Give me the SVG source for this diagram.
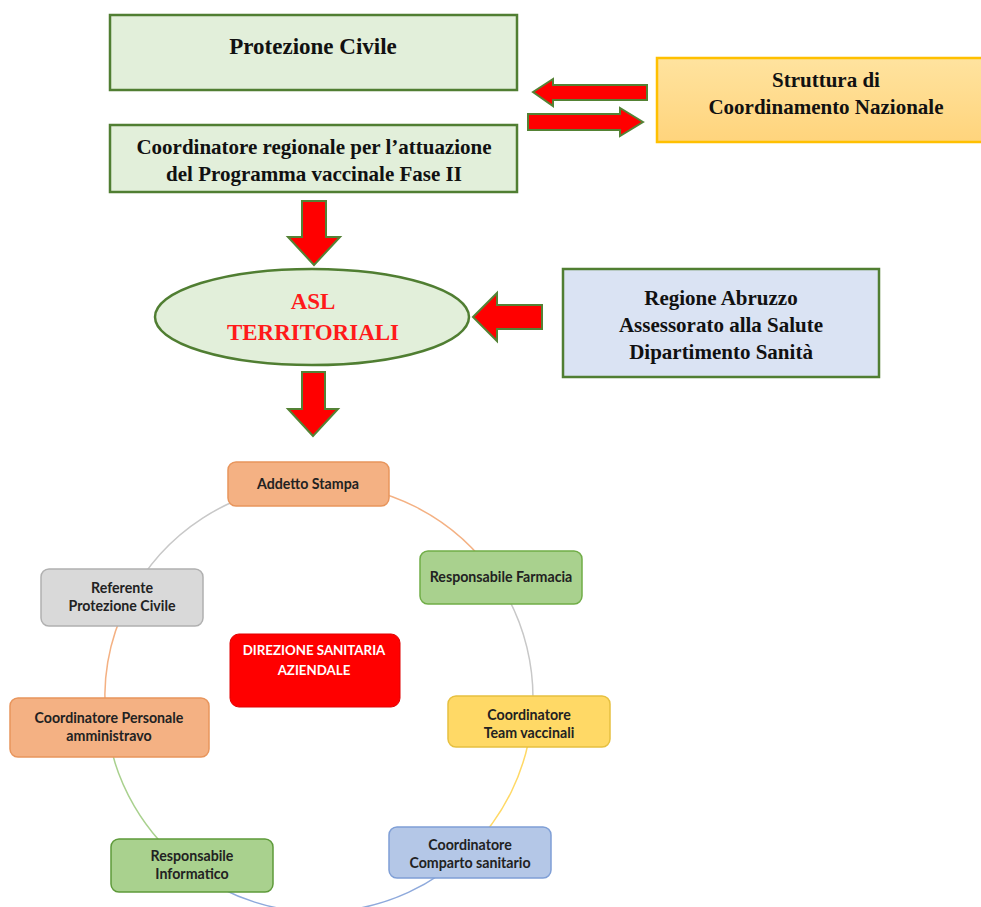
<svg xmlns="http://www.w3.org/2000/svg" width="981" height="907" viewBox="0 0 981 907">
<style>
.gbox{fill:#e2efda;stroke:#507e32;stroke-width:2.5}
.ser{font-family:"Liberation Serif","Times New Roman",serif;font-weight:bold;font-size:21px;fill:#111;text-anchor:middle}
.arr{fill:#ff0000;stroke:#548235;stroke-width:2;stroke-linejoin:miter}
.cn{stroke-width:1.5;rx:8}
.cl{font-family:Lato,"Open Sans",sans-serif;font-weight:bold;font-size:14.2px;fill:#222;text-anchor:middle}
.arc{fill:none;stroke-width:1.5}
</style>
<defs>
<linearGradient id="yel" x1="0" y1="0" x2="0" y2="1">
<stop offset="0" stop-color="#ffe39f"/><stop offset="1" stop-color="#ffd47c"/>
</linearGradient>
</defs>
<rect width="981" height="907" fill="#ffffff"/>

<g id="connectors">
<path class="arr" d="M533,92 L553,79 L553,85 L647,85 L647,100 L553,100 L553,106 Z"/>
<path class="arr" d="M643,122 L620,108 L620,114 L528,114 L528,130 L620,130 L620,136 Z"/>
<path class="arr" d="M302,201 L326,201 L326,237 L340,237 L314,265 L288,237 L302,237 Z"/>
<path class="arr" d="M473,317 L497,293 L497,305 L542,305 L542,329 L497,329 L497,341 Z"/>
<path class="arr" d="M302,372 L325,372 L325,409 L338,409 L313,436 L288,409 L302,409 Z"/>
<path class="arc" stroke="#f4b183" d="M308,484 A214,214 0 0 1 497.2,579.5"/>
<path class="arc" stroke="#c8c8c8" d="M497.2,579.5 A214,214 0 0 1 531.7,721.3"/>
<path class="arc" stroke="#ffd966" d="M531.7,721.3 A214,214 0 0 1 468.8,850.8"/>
<path class="arc" stroke="#8faadc" d="M468.8,850.8 A214,214 0 0 1 189.5,868.4"/>
<path class="arc" stroke="#a9d18e" d="M189.5,868.4 A214,214 0 0 1 107,727.4"/>
<path class="arc" stroke="#f4b183" d="M107,727.4 A214,214 0 0 1 128.5,600.4"/>
<path class="arc" stroke="#c8c8c8" d="M128.5,600.4 A214,214 0 0 1 308,484"/>
</g>

<g id="protezione-civile">
<rect class="gbox" x="110" y="15" width="407" height="75"/>
<text class="ser" x="313" y="54" style="font-size:23px">Protezione Civile</text>
</g>
<g id="coordinatore-regionale">
<rect class="gbox" x="110" y="125" width="407" height="67"/>
<text class="ser" x="314" y="154">Coordinatore regionale per l’attuazione</text>
<text class="ser" x="314" y="181">del Programma vaccinale Fase II</text>
</g>
<g id="struttura">
<rect x="657" y="58" width="330" height="84" fill="url(#yel)" stroke="#ffc000" stroke-width="2.5"/>
<text class="ser" x="826" y="87">Struttura di</text>
<text class="ser" x="826" y="114">Coordinamento Nazionale</text>
</g>
<g id="asl">
<ellipse cx="312" cy="317" rx="157" ry="48" fill="#e2efda" stroke="#507e32" stroke-width="2.5"/>
<text class="ser" x="313" y="309" style="fill:#ff1a1a;font-size:23px">ASL</text>
<text class="ser" x="313" y="340" style="fill:#ff1a1a;font-size:23px">TERRITORIALI</text>
</g>
<g id="regione">
<rect x="563" y="269" width="316" height="108" fill="#dae3f3" stroke="#507e32" stroke-width="2.5"/>
<text class="ser" x="721" y="305">Regione Abruzzo</text>
<text class="ser" x="721" y="332">Assessorato alla Salute</text>
<text class="ser" x="721" y="359">Dipartimento Sanità</text>
</g>

<g id="addetto-stampa">
<rect class="cn" x="228" y="462" width="161" height="44" fill="#f4b183" stroke="#e8955c"/>
<text class="cl" x="308" y="489">Addetto Stampa</text>
</g>
<g id="responsabile-farmacia">
<rect class="cn" x="420" y="551" width="162" height="53" fill="#a9d18e" stroke="#70ad47"/>
<text class="cl" x="501" y="582">Responsabile Farmacia</text>
</g>
<g id="coordinatore-team">
<rect class="cn" x="448" y="696" width="162" height="51" fill="#ffd966" stroke="#e6c040"/>
<text class="cl" x="529" y="720">Coordinatore</text>
<text class="cl" x="529" y="738">Team vaccinali</text>
</g>
<g id="coordinatore-comparto">
<rect class="cn" x="389" y="827" width="162" height="51" fill="#b4c7e7" stroke="#7f9fd6"/>
<text class="cl" x="470" y="850">Coordinatore</text>
<text class="cl" x="470" y="868">Comparto sanitario</text>
</g>
<g id="responsabile-informatico">
<rect class="cn" x="111" y="839" width="162" height="53" fill="#a9d18e" stroke="#5e9a3a"/>
<text class="cl" x="192" y="861">Responsabile</text>
<text class="cl" x="192" y="879">Informatico</text>
</g>
<g id="coordinatore-personale">
<rect class="cn" x="10" y="698" width="199" height="59" fill="#f4b183" stroke="#e8955c"/>
<text class="cl" x="109" y="723">Coordinatore Personale</text>
<text class="cl" x="109" y="741">amministravo</text>
</g>
<g id="referente-protezione-civile">
<rect class="cn" x="41" y="569" width="162" height="57" fill="#d9d9d9" stroke="#b0b0b0"/>
<text class="cl" x="122" y="593">Referente</text>
<text class="cl" x="122" y="611">Protezione Civile</text>
</g>
<g id="direzione-sanitaria">
<rect x="230" y="634" width="170" height="73" rx="9" fill="#ff0000" stroke="#e00000" stroke-width="1"/>
<text class="cl" x="314" y="655" style="fill:#ffffff;font-size:13.3px">DIREZIONE SANITARIA</text>
<text class="cl" x="314" y="675" style="fill:#ffffff;font-size:13.3px">AZIENDALE</text>
</g>
</svg>
